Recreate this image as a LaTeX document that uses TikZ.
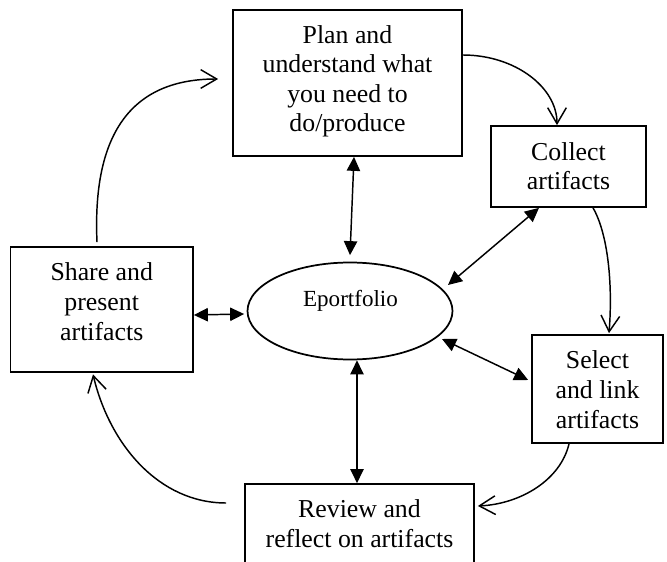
\documentclass[tikz,border=0pt]{standalone}
\usepackage{fontspec}
\setmainfont{Liberation Serif}
\usetikzlibrary{arrows.meta,calc,shapes.geometric}
\tikzset{
  boxnode/.style={draw, line width=1.3pt, inner sep=0pt, rectangle},
  boxtext/.style={align=center, inner sep=0pt, anchor=base, font=\fontsize{19.35}{22.2}\selectfont},
  cyc/.style={line width=1.1pt, -{Straight Barb[length=12pt,width=14pt,line width=1.1pt]}},
  dbl/.style={line width=1.1pt, {Triangle[length=10.5pt,width=10pt]}-{Triangle[length=10.5pt,width=10pt]}}
}
\begin{document}
\begin{tikzpicture}[x=0.75pt,y=0.75pt]
\useasboundingbox (0,0) rectangle (667,561);
\clip (0,0) rectangle (667,561);
% boxes
\node[boxnode, minimum width=229*0.75pt, minimum height=146*0.75pt] (plan) at (347.5,478) {};
\node[boxnode, minimum width=155*0.75pt, minimum height=81*0.75pt] (collect) at (568.5,394.5) {};
\node[boxnode, minimum width=182.5*0.75pt, minimum height=125*0.75pt] (share) at (101.75,251.5) {};
\node[boxnode, minimum width=131*0.75pt, minimum height=108*0.75pt] (select) at (597.5,172) {};
\node[boxnode, minimum width=229*0.75pt, minimum height=117*0.75pt] (review) at (359.5,18.5) {};
\node[draw, line width=1.3pt, ellipse, inner sep=0pt, minimum width=205*0.75pt, minimum height=97*0.75pt] (eport) at (350,250) {};
% texts (anchor=base is the last line's baseline)
\node[boxtext] (plantxt) at (347.5,429) {Plan and\\understand what\\you need to\\do/produce};
\node[boxtext] (collecttxt) at (568.5,371) {Collect\\artifacts};
\node[boxtext] (sharetxt) at (101.75,221) {Share and\\present\\artifacts};
\node[boxtext] (selecttxt) at (597.5,133) {Select\\and link\\artifacts};
\node[boxtext] (reviewtxt) at (359.5,14) {Review and\\reflect on artifacts};
\node[inner sep=0pt, anchor=base, font=\fontsize{17.3}{20}\selectfont] (eporttxt) at (350.5,254) {Eportfolio};
% cycle arrows
\draw[cyc] ($(plan.east)+(0,28)$) .. controls ($(plan.east)+(52,28)$) and ($(collect.north)+(-11.5,38)$) .. ($(collect.north)+(-11.5,0)$);
\draw[cyc] ($(collect.south)+(24.5,0)$) .. controls ($(collect.south)+(39,-25)$) and ($(select.north)+(15.5,52)$) .. ($(select.north)+(11.5,1)$);
\draw[cyc] ($(select.south)+(-28.5,0)$) .. controls ($(select.south)+(-37,-36)$) and ($(review.east)+(46,38.5)$) .. ($(review.east)+(3,36.5)$);
\draw[cyc] ($(review.west)+(-18,39.5)$) .. controls ($(review.west)+(-85,39.5)$) and ($(share.south)+(8,-72)$) .. ($(share.south)+(-8.75,-1.5)$);
\draw[cyc] ($(share.north)+(-4.75,4)$) .. controls ($(share.north)+(-9.75,116)$) and ($(plan.west)+(-98,4)$) .. ($(plan.west)+(-14,4)$);
% double arrows
\draw[dbl] ($(plan.south)+(6.5,0)$) -- ($(eport.north)+(0,6.5)$);
\draw[dbl] ($(collect.south)+(-29.5,0)$) -- ($(eport.center)+(98,26)$);
\draw[dbl] ($(select.west)+(-3,9)$) -- ($(eport.center)+(92,-28)$);
\draw[dbl] ($(share.east)+(0,-5.5)$) -- ($(eport.west)+(-2.5,-3)$);
\draw[dbl] ($(eport.south)+(7,0)$) -- ($(review.north)+(-2.5,0)$);
\end{tikzpicture}
\end{document}
